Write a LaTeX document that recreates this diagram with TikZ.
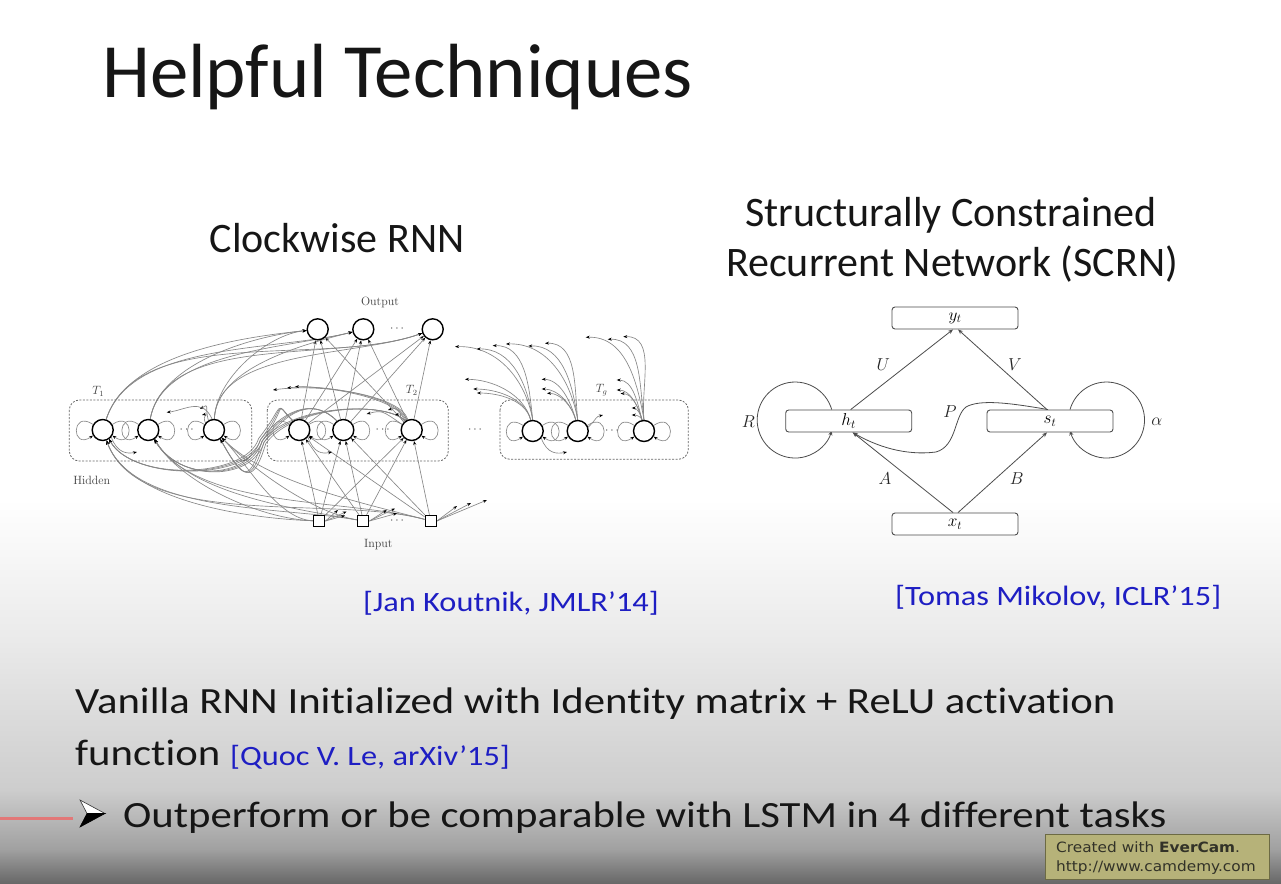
\documentclass[tikz,border=0pt]{standalone}
\usepackage[no-math]{fontspec}
\setmainfont{Carlito}[Ligatures=NoCommon]
\newfontfamily\widefont{Carlito}[Ligatures=NoCommon,FakeStretch=1.155]
\newfontfamily\evfont{DejaVu Sans}[FakeStretch=1.08]
\usetikzlibrary{arrows.meta,calc}
\pgfdeclarelayer{back}
\pgfdeclarelayer{wires}
\pgfsetlayers{back,wires,main}
\definecolor{citeblue}{RGB}{30,30,195}
\definecolor{evfill}{RGB}{182,178,121}
\definecolor{evline}{RGB}{108,106,68}
\definecolor{evtext}{RGB}{50,50,40}
\definecolor{cwline}{RGB}{135,135,135}
\definecolor{slidered}{RGB}{226,120,120}
\definecolor{bgA}{RGB}{234,234,234}
\definecolor{bgB}{RGB}{205,205,205}
\definecolor{bgC}{RGB}{160,160,160}
\definecolor{bgD}{RGB}{104,104,104}
\definecolor{inkcol}{RGB}{22,22,22}
\tikzset{
  cwn/.style={circle,draw=black,line width=1.4pt,fill=white,minimum size=21pt,inner sep=0pt},
  cwi/.style={rectangle,draw=black,line width=1.3pt,fill=white,minimum size=11pt,inner sep=0pt},
  cwe/.style={draw=cwline,line width=0.65pt,-{Stealth[length=4pt,width=3pt,color=black]}},
  modbox/.style={draw=black!60,dash pattern=on 2pt off 1.5pt,line width=0.8pt,rounded corners=10pt},
  cwlab/.style={text=black!75,font=\fontsize{12}{14}\selectfont,inner sep=0pt},
  cwdots/.style={text=black!75,font=\fontsize{13}{14}\selectfont,inner sep=0pt},
  sbox/.style={draw=black!70,fill=white,rounded corners=3pt,line width=0.9pt,minimum width=126pt,minimum height=22pt,inner sep=0pt,font=\fontsize{18}{20}\selectfont},
  sedge/.style={draw=black!70,line width=0.8pt,-{Stealth[length=5pt,width=4pt]}},
  slab/.style={font=\fontsize{19}{22}\selectfont,inner sep=0pt,text=black!85},
  heading/.style={font=\fontsize{42}{48}\selectfont,text=inkcol,inner sep=0pt},
  cite/.style={font=\widefont\fontsize{28}{32}\selectfont,text=citeblue,inner sep=0pt},
  body/.style={font=\widefont\fontsize{37}{42}\selectfont,text=inkcol,inner sep=0pt},
  evtxt/.style={font=\evfont\fontsize{14.2}{16}\selectfont,text=evtext,inner sep=0pt}
}
\begin{document}
\begin{tikzpicture}[x=1pt,y=-1pt]
\useasboundingbox (0,0) rectangle (1281,883);
\begin{pgfonlayer}{back}
\fill[white] (0,0) rectangle (1281,500);
\shade[top color=white,bottom color=bgA] (0,499.5) rectangle (1281,640);
\shade[top color=bgA,bottom color=bgB] (0,639.5) rectangle (1281,790);
\shade[top color=bgB,bottom color=bgC] (0,789.5) rectangle (1281,850);
\shade[top color=bgC,bottom color=bgD] (0,849.5) rectangle (1281,883);
\end{pgfonlayer}

% ---------- texts ----------
\node[anchor=base west,inner sep=0,font=\fontsize{76.8}{80}\selectfont,text=inkcol] (title) at (102,97) {Helpful Techniques};
\node[heading,anchor=base] (cwtitle) at (337,252) {Clockwise RNN};
\node[heading,anchor=base] (sc1) at (951,226) {Structurally Constrained};
\node[heading,anchor=base] (sc2) at (952,276) {Recurrent Network (SCRN)};
\node[cite,anchor=base west] (cite1) at (363,611) {[Jan Koutnik, JMLR’14]};
\node[cite,anchor=base west] (cite2) at (895,605) {[Tomas Mikolov, ICLR’15]};
\node[body,anchor=base west] (line1) at (75,713) {Vanilla RNN Initialized with Identity matrix + ReLU activation};
\node[body,anchor=base west] (line2) at (75,765) {function};
\node[cite,anchor=base west] (cite3) at (230,765) {[Quoc V. Le, arXiv’15]};
\node[body,anchor=base west] (line3) at (123,827) {Outperform or be comparable with LSTM in 4 different tasks};
% bullet arrow and red line
\fill[slidered] (0,816.5) rectangle (73,819.8);
\filldraw[fill=white,draw=black!80,line width=0.6pt] (80,800) -- (105,813.5) -- (87,813.5) -- cycle;
\filldraw[fill=black,draw=black,line width=0.6pt] (87,813.5) -- (105,813.5) -- (80,827) -- cycle;
% EverCam badge
\node[draw=evline,fill=evfill,line width=1pt,minimum width=224pt,minimum height=45pt,inner sep=0pt] (ever) at (1157.3,856.5) {};
\node[evtxt,anchor=base west] (ever1) at (1056,852.5) {Created with \textbf{EverCam}.};
\node[evtxt,anchor=base west] (ever2) at (1056,871.5) {http://www.camdemy.com};

% ---------- Clockwise RNN ----------
\draw[modbox] (69.3,400) rectangle (251.7,461);
\draw[modbox] (267.3,400) rectangle (448.3,461);
\draw[modbox] (500,400) rectangle (688.3,459.3);
\node[cwlab] (outlab) at (380,302.5) {$\mathrm{Output}$};
\node[cwlab] (hidlab) at (91.7,480) {$\mathrm{Hidden}$};
\node[cwlab] (inlab) at (378.3,545) {$\mathrm{Input}$};
\node[cwlab] (t1lab) at (98.3,391.5) {$T_1$};
\node[cwlab] (t2lab) at (411.7,390) {$T_2$};
\node[cwlab] (tglab) at (601.7,390) {$T_g$};

\node[cwn] (o1) at (317.7,329.3) {};
\node[cwn] (o2) at (363.3,329.3) {};
\node[cwn] (o3) at (432.7,329.3) {};
\node[cwdots] (od) at (397,329) {$\cdots$};
\node[cwn] (a1) at (102.7,430) {};
\node[cwn] (a2) at (148.3,430) {};
\node[cwn] (a3) at (214,430) {};
\node[cwdots] (ad) at (186.7,430) {$\cdots$};
\node[cwn] (b1) at (299.3,430) {};
\node[cwn] (b2) at (343.3,430) {};
\node[cwn] (b3) at (411.7,430) {};
\node[cwdots] (bd) at (382.7,430) {$\cdots$};
\node[cwdots] (md) at (475,430) {$\cdots$};
\node[cwn] (g1) at (532.7,431) {};
\node[cwn] (g2) at (577.7,431) {};
\node[cwn] (g3) at (644,431) {};
\node[cwdots] (gd) at (612,431) {$\cdots$};
\node[cwi] (i1) at (319.3,521) {};
\node[cwi] (i2) at (363.3,521) {};
\node[cwi] (i3) at (430.7,521) {};
\node[cwdots] (id) at (397,521) {$\cdots$};

% free ends
\coordinate (e1) at (455,346.7);
\coordinate (e2) at (476.7,349);
\coordinate (e3) at (492.7,345.7);
\coordinate (e4) at (465,379.3);
\coordinate (e5) at (473.3,389);
\coordinate (e6) at (477,393);
\coordinate (e7) at (506,344);
\coordinate (e8) at (528.3,346);
\coordinate (e9) at (545,343.3);
\coordinate (e10) at (541.7,379.3);
\coordinate (e11) at (541.7,389);
\coordinate (e12) at (547,393.3);
\coordinate (e13) at (585.7,337.3);
\coordinate (e14) at (607.7,339.3);
\coordinate (e15) at (623.3,336.7);
\coordinate (e16) at (616.7,380);
\coordinate (e17) at (616.7,390);
\coordinate (e18) at (620.5,393.5);
\coordinate (e19) at (631.7,408);
\coordinate (e20) at (631.7,415);
\coordinate (f1) at (273,390);
\coordinate (f2) at (287,388);
\coordinate (f3) at (295,386.7);
\coordinate (f4) at (366.7,414);
\coordinate (f5) at (388,410);
\coordinate (f6) at (395,415);
\coordinate (f7) at (166.7,412.3);
\coordinate (f8) at (200,409);
\coordinate (f9) at (202,415);
\coordinate (p1) at (338,510);
\coordinate (p2) at (346.7,511.5);
\coordinate (p3) at (345,515.5);
\coordinate (p4) at (386.7,510);
\coordinate (p5) at (395,508.5);
\coordinate (p6) at (397,513.3);
\coordinate (p7) at (457,506);
\coordinate (p8) at (471,503);
\coordinate (p9) at (487,500);
\coordinate (q1) at (137,452);
\coordinate (q2) at (332,452);
\coordinate (q3) at (567,452);
\coordinate (q4) at (603,415);

\begin{pgfonlayer}{wires}
% self loops
\foreach \n in {a1,a2,a3,b1,b2,b3,g1,g2,g3}{
  \draw[cwe] (\n.150) .. controls +(-22,-15) and +(-22,15) .. (\n.210);
  \draw[cwe] (\n.30) .. controls +(22,-15) and +(22,15) .. (\n.-30);
}
% T2 -> outputs
\foreach \h in {b1,b2,b3}{\foreach \o in {o1,o2,o3}{\draw[cwe] (\h) -- (\o);}}
% T1 -> outputs
\foreach \h/\oa in {a1/72,a2/80,a3/88}{\foreach \o/\ia in {o1/186,o2/194,o3/200}{\draw[cwe] (\h) to[out=\oa,in=\ia,looseness=0.8] (\o);}}
% inputs -> T2
\foreach \i in {i1,i2,i3}{\foreach \h in {b1,b2,b3}{\draw[cwe] (\i) -- (\h);}}
% inputs -> T1
\foreach \i/\ia in {i1/178,i2/170,i3/165}{\foreach \h/\hb in {a1/-70,a2/-58,a3/-45}{\draw[cwe] (\i) to[out=\ia,in=\hb,looseness=0.75] (\h);}}
% T2 -> T1 bundle
\foreach \b [count=\bi] in {b1,b2,b3}{
 \foreach \a [count=\ai] in {a1,a2,a3}{
  \pgfmathsetmacro\mx{255+2*\bi+1.6*\ai}
  \pgfmathsetmacro\my{436+1.5*\ai+\bi}
  \draw[cwe] (\b.125) .. controls +(-20,-20) and ({\mx+28},{402+\bi}) .. (\mx,\my) .. controls ({\mx-12},{\my+40}) and ($(\a)+(30,52)$) .. (\a.-55);
 }
}
% module-internal
\foreach \n/\q in {a1/q1,b1/q2,g1/q3}{\draw[cwe] (\n.-40) .. controls +(6,16) and +(-10,2) .. (\q);}
\draw[cwe] (g2.20) .. controls +(10,-10) and +(-8,2) .. (q4);
\draw[cwe] (a3.120) .. controls +(-4,-14) and +(10,-6) .. (f8);
\draw[cwe] (a3.140) .. controls +(-4,-8) and +(8,-2) .. (f9);
\draw[cwe] (a3.100) .. controls +(-10,-22) and +(18,-2) .. (f7);
\draw[cwe] (b3.110) .. controls (400,395) and (320,383) .. (f1);
\draw[cwe] (b3.115) .. controls (398,396) and (322,384) .. (f2);
\draw[cwe] (b3.120) .. controls (396,397) and (324,386) .. (f3);
\draw[cwe] (b3.135) .. controls +(-8,-8) and +(10,-2) .. (f6);
\draw[cwe] (b3.125) .. controls +(-8,-12) and +(10,-3) .. (f5);
\draw[cwe] (b3.150) .. controls +(-20,-14) and +(15,-4) .. (f4);
% inputs -> further modules (truncated)
\foreach \i/\p in {i1/p1,i1/p2,i1/p3,i2/p4,i2/p5,i2/p6,i3/p7,i3/p8,i3/p9}{\draw[cwe] (\i.east) -- (\p);}
% Tg -> earlier modules (truncated)
\foreach \g/\e/\oa in {g1/e1/100,g1/e2/98,g1/e3/96,g2/e7/100,g2/e8/98,g2/e9/96,g3/e13/100,g3/e14/98,g3/e15/96}{\draw[cwe] (\g.90) to[out=\oa,in=2,looseness=1] (\e);}
\foreach \g/\e in {g1/e4,g1/e5,g1/e6,g2/e10,g2/e11,g2/e12,g3/e16,g3/e17,g3/e18,g3/e19,g3/e20}{\draw[cwe] (\g.100) to[out=105,in=0,looseness=0.9] (\e);}
\end{pgfonlayer}

% ---------- SCRN ----------
\node[sbox] (yt) at (955,318) {$y_t$};
\node[sbox] (ht) at (848.7,421) {$h_t$};
\node[sbox] (st) at (1050,421) {$s_t$};
\node[sbox] (xt) at (955,524) {$x_t$};
\begin{pgfonlayer}{wires}
\draw[sedge] ([xshift=2pt]ht.north) -- ([xshift=-2pt]yt.south);
\draw[sedge] ([xshift=-3pt]st.north) -- ([xshift=3pt]yt.south);
\draw[sedge] ([xshift=-2pt]xt.north) -- ([xshift=4pt]ht.south);
\draw[sedge] ([xshift=3pt]xt.north) -- ([xshift=-3pt]st.south);
\draw[sedge] ([xshift=-17pt]ht.north) arc[start angle=16,end angle=344,radius=38pt];
\draw[sedge] ([xshift=20pt]st.north) arc[start angle=164,end angle=-164,radius=38pt];
\draw[sedge] ([xshift=-2pt]st.north) .. controls (1010,403) and (980,399) .. (966,407) .. controls (954,416) and (957,446) .. (936,452) .. controls (905,456) and (876,446) .. ([xshift=4pt]ht.south);
\end{pgfonlayer}
\node[slab] (lU) at (883.3,365) {$U$};
\node[slab] (lV) at (1015,365) {$V$};
\node[slab] (lR) at (748.3,421.7) {$R$};
\node[slab] (la) at (1156.7,421.7) {$\alpha$};
\node[slab] (lP) at (950,412) {$P$};
\node[slab] (lA) at (885,478.3) {$A$};
\node[slab] (lB) at (1016.7,478.3) {$B$};
\end{tikzpicture}
\end{document}
